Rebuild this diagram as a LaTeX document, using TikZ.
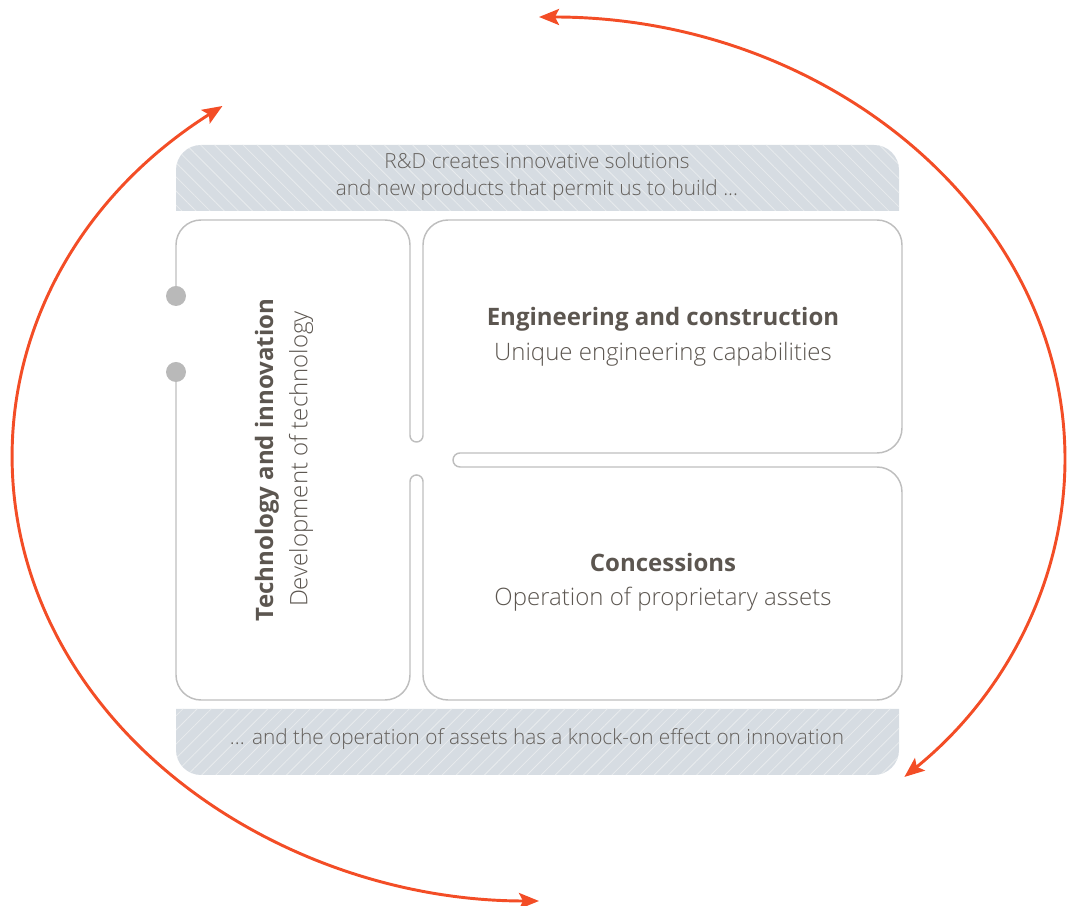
\documentclass[tikz,border=0pt]{standalone}
\usepackage{xcolor}
\usepackage{fontspec}
\setmainfont{Open Sans}[UprightFont=* Light, BoldFont=* Bold]
\usepackage{tikz}
\usetikzlibrary{positioning, arrows.meta, patterns.meta}

\definecolor{cyclered}{RGB}{243,77,38}
\definecolor{boxline}{RGB}{190,190,190}
\definecolor{dotgray}{RGB}{185,185,185}
\definecolor{bandfill}{RGB}{214,220,226}
\definecolor{bandline}{RGB}{232,235,238}
\definecolor{textgray}{RGB}{92,86,80}
\definecolor{bandtext}{RGB}{100,96,92}

\begin{document}
\begin{tikzpicture}[
    x=0.75pt, y=0.75pt,
    every node/.style={inner sep=0pt, text=textgray},
    title/.style={font=\fontsize{18}{21}\selectfont\bfseries},
    subtitle/.style={font=\fontsize{18}{21}\selectfont},
    bandlabel/.style={font=\fontsize{15.6}{18}\selectfont, text=bandtext},
    band/.style={fill=bandfill},
    outline/.style={draw=boxline, line width=1.1pt},
    dot/.style={circle, fill=dotgray, minimum size=15pt},
    cyclearrow/.style={draw=cyclered, line width=2.2pt,
                       {Stealth[length=15pt, width=12pt, inset=3pt]}-{Stealth[length=15pt, width=12pt, inset=3pt]}}
]
\useasboundingbox (0,0) rectangle (1075,906);

% Hatched bands
\path[band] (176,695) -- (176,736) arc[start angle=180, end angle=90, radius=25]
    -- (874,761) arc[start angle=90, end angle=0, radius=25] -- (899,695) -- cycle;
\path[pattern={Lines[angle=-45, distance=7.5pt, line width=0.6pt]}, pattern color=bandline]
    (176,695) -- (176,736) arc[start angle=180, end angle=90, radius=25]
    -- (874,761) arc[start angle=90, end angle=0, radius=25] -- (899,695) -- cycle;
\path[band] (176,197) -- (176,156) arc[start angle=180, end angle=270, radius=25]
    -- (874,131) arc[start angle=270, end angle=360, radius=25] -- (899,197) -- cycle;
\path[pattern={Lines[angle=45, distance=7.5pt, line width=0.6pt]}, pattern color=bandline]
    (176,197) -- (176,156) arc[start angle=180, end angle=270, radius=25]
    -- (874,131) arc[start angle=270, end angle=360, radius=25] -- (899,197) -- cycle;

\node[bandlabel] (rdtop) at (537,745) {R\&D creates innovative solutions};
\node[bandlabel] (rdbot) at (537,716) {and new products that permit us to build ...};
\node[bandlabel] (knock) at (537,167) {... and the operation of assets has a knock-on effect on innovation};

% Joined boxes with slots
\draw[outline] (176,610) -- (176,661) arc[start angle=180, end angle=90, radius=25]
    -- (385,686) arc[start angle=90, end angle=0, radius=25]
    -- (410,470.5) arc[start angle=180, end angle=360, radius=6.5]
    -- (423,661) arc[start angle=180, end angle=90, radius=25]
    -- (877,686) arc[start angle=90, end angle=0, radius=25]
    -- (902,478) arc[start angle=0, end angle=-90, radius=25]
    -- (460,453) arc[start angle=90, end angle=270, radius=7]
    -- (877,439) arc[start angle=90, end angle=0, radius=25]
    -- (902,231) arc[start angle=0, end angle=-90, radius=25]
    -- (448,206) arc[start angle=270, end angle=180, radius=25]
    -- (423,424.5) arc[start angle=0, end angle=180, radius=6.5]
    -- (410,231) arc[start angle=0, end angle=-90, radius=25]
    -- (201,206) arc[start angle=270, end angle=180, radius=25]
    -- (176,534);

\node[dot] (dotup) at (176,610) {};
\node[dot] (dotdown) at (176,534) {};

% Box texts
\node[title, rotate=90] (techtitle) at (267,446) {Technology and innovation};
\node[subtitle, rotate=90] (techsub) at (301,447) {Development of technology};
\node[title] (engtitle) at (663,587) {Engineering and construction};
\node[subtitle] (engsub) at (663,552) {Unique engineering capabilities};
\node[title] (contitle) at (663,343) {Concessions};
\node[subtitle] (consub) at (663,307) {Operation of proprietary assets};

% Cycle arrows
\coordinate (ctr) at (539,447);
\draw[cyclearrow] (ctr) ++(127:526 and 442) arc[start angle=127, end angle=270, x radius=526, y radius=442];
\draw[cyclearrow] (ctr) ++(90:526 and 442) arc[start angle=90, end angle=-46, x radius=526, y radius=442];

\end{tikzpicture}
\end{document}
